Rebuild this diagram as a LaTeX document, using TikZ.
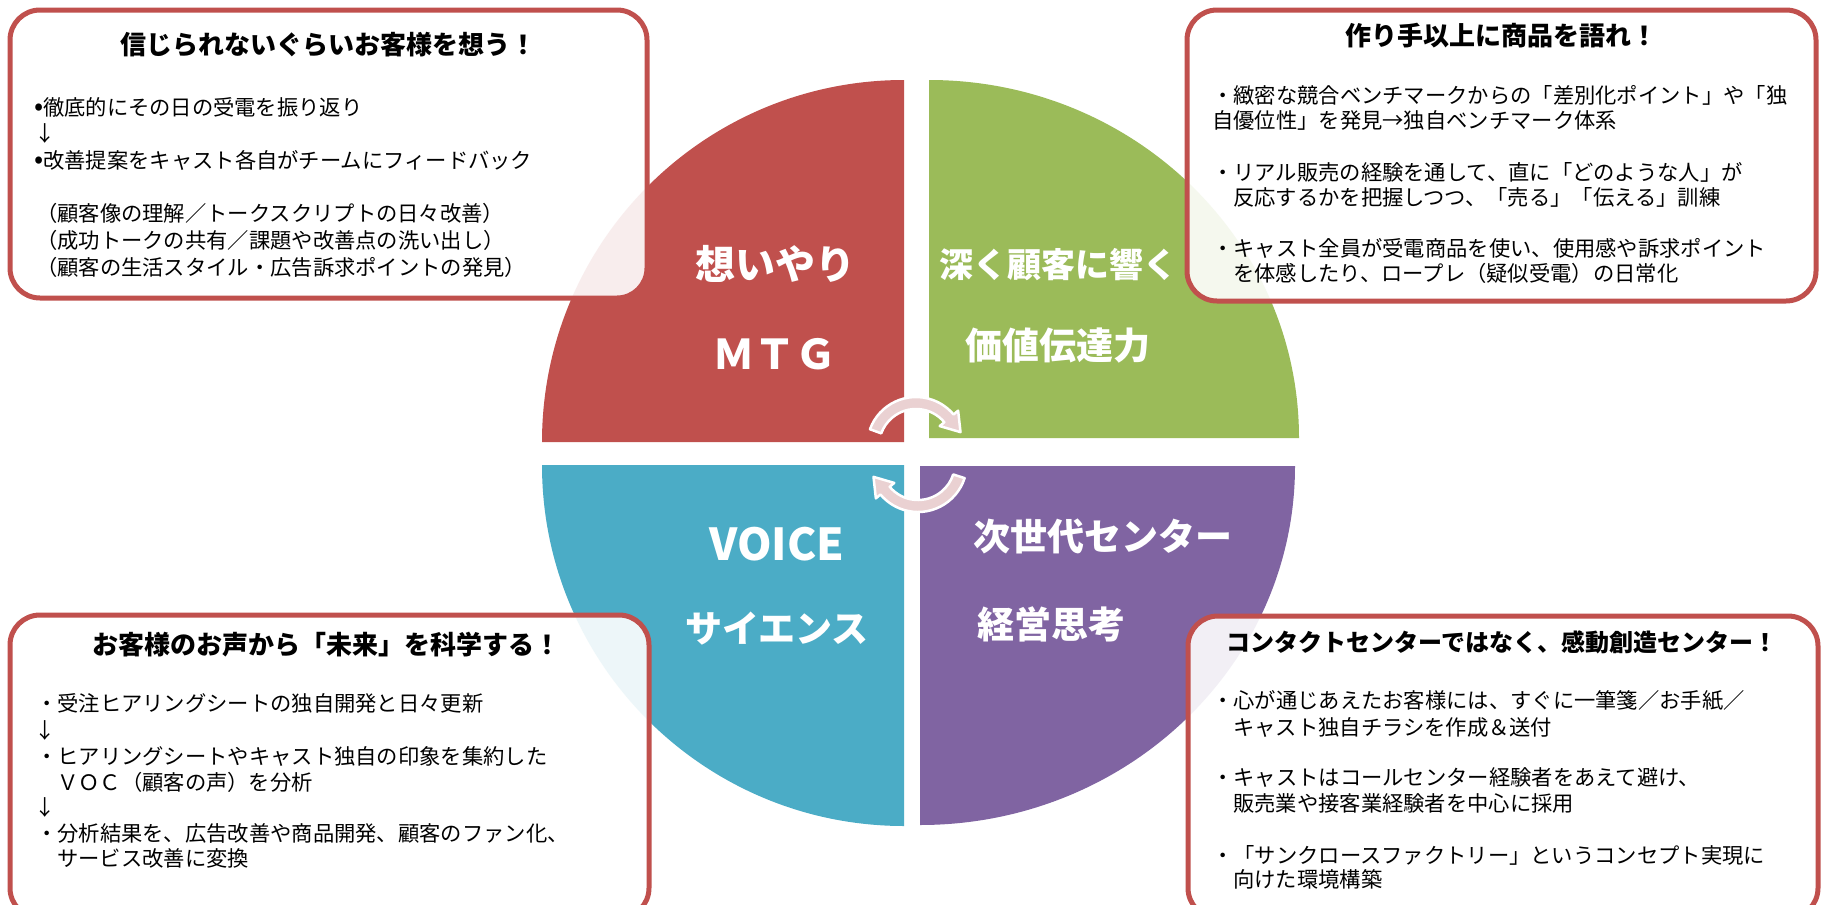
\documentclass[tikz,border=0pt]{standalone}
\usepackage{fontspec}
\setmainfont{Noto Sans CJK JP}
\usetikzlibrary{calc}
\definecolor{qred}{HTML}{C0504D}
\definecolor{qgreen}{HTML}{9BBB59}
\definecolor{qblue}{HTML}{4BACC6}
\definecolor{qpurple}{HTML}{8064A2}
\definecolor{arrowpink}{HTML}{EAD1D2}
\definecolor{boxred}{HTML}{C0504D}
\newcommand{\bigbul}{{\fontsize{27}{27}\selectfont•}}
\begin{document}
\begin{tikzpicture}[x=1pt,y=-1pt,
  infobox/.style={draw=boxred, line width=5pt, rounded corners=30pt, fill=white, fill opacity=0.9},
  boxtitle/.style={font=\fontsize{26}{30}\selectfont\bfseries, text=black, inner sep=0pt, text height=22.9pt, text depth=3.1pt},
  bodyline/.style={font=\fontsize{21.3}{26}\selectfont, text=black, anchor=west, inner sep=0pt, text height=18.7pt, text depth=2.6pt},
  qlabel/.style={text=white, inner sep=0pt},
  cyc/.style={fill=arrowpink, draw=white, line width=2.5pt, line join=round}]
\useasboundingbox (0,0) rectangle (1824,905);
\fill[white] (0,0) rectangle (1824,905);
% quadrants
\fill[qred] (904,442) -- (542,442) arc[start angle=180, end angle=270, x radius=362, y radius=362] -- cycle;
\fill[qgreen] (929,438) -- (929,80) arc[start angle=270, end angle=360, x radius=370, y radius=358] -- cycle;
\fill[qblue] (904,465) -- (904,826) arc[start angle=90, end angle=180, x radius=362, y radius=361] -- cycle;
\fill[qpurple] (920,466) -- (1295,466) arc[start angle=0, end angle=90, x radius=375, y radius=359] -- cycle;
% cycle arrows
\coordinate (ca) at (916,446);
\coordinate (cb) at (918,463);
\filldraw[cyc] ($(ca)+(200:49)$) arc[start angle=200, end angle=320, radius=49]
  -- ($(ca)+(320:55)$) -- ($(ca)+(320:43)+(50:18)$) -- ($(ca)+(320:31)$) -- ($(ca)+(320:37)$)
  arc[start angle=320, end angle=200, radius=37] -- cycle;
\filldraw[cyc] ($(cb)+(18:49)$) arc[start angle=18, end angle=140, radius=49]
  -- ($(cb)+(140:55)$) -- ($(cb)+(140:43)+(230:18)$) -- ($(cb)+(140:31)$) -- ($(cb)+(140:37)$)
  arc[start angle=140, end angle=18, radius=37] -- cycle;
% quadrant labels
\node[qlabel, font=\fontsize{40}{44}\selectfont\bfseries] (q1a) at (775,264) {想いやり};
\node[qlabel, font=\fontsize{41}{44}\selectfont\bfseries] (q1b) at (775,354) {ＭＴＧ};
\node[qlabel, font=\fontsize{34}{40}\selectfont\bfseries] (q2a) at (1058,265) {深く顧客に響く};
\node[qlabel, font=\fontsize{37}{40}\selectfont\bfseries] (q2b) at (1058,346) {価値伝達力};
\node[qlabel, font=\fontsize{44}{48}\selectfont\bfseries] (q3a) at (777,544) {VOICE};
\node[qlabel, font=\fontsize{37}{40}\selectfont\bfseries] (q3b) at (777,629) {サイエンス};
\node[qlabel, font=\fontsize{37}{40}\selectfont\bfseries] (q4a) at (1103,536) {次世代センター};
\node[qlabel, font=\fontsize{37}{40}\selectfont\bfseries] (q4b) at (1051,624) {経営思考};
% boxes
\draw[infobox] (10,10) rectangle (647,298);
\draw[infobox] (1187,10) rectangle (1816,301);
\draw[infobox] (10,615) rectangle (649,918);
\draw[infobox] (1188,616) rectangle (1818,918);
% top-left box
\node[boxtitle] (t1) at (328,45) {信じられないぐらいお客様を想う！};
\node[bodyline] (a1) at (34,107) {\bigbul 徹底的にその日の受電を振り返り};
\node[bodyline] (a2) at (34,133) {↓};
\node[bodyline] (a3) at (34,160) {\bigbul 改善提案をキャスト各自がチームにフィードバック};
\node[bodyline] (a4) at (36,213) {（顧客像の理解／トークスクリプトの日々改善）};
\node[bodyline] (a5) at (36,240) {（成功トークの共有／課題や改善点の洗い出し）};
\node[bodyline] (a6) at (36,267) {（顧客の生活スタイル・広告訴求ポイントの発見）};
% top-right box
\node[boxtitle] (t2) at (1501,36) {作り手以上に商品を語れ！};
\node[bodyline] (b1) at (1212,95) {・緻密な競合ベンチマークからの「差別化ポイント」や「独};
\node[bodyline] (b2) at (1212,120) {自優位性」を発見→独自ベンチマーク体系};
\node[bodyline] (b3) at (1212,172) {・リアル販売の経験を通して、直に「どのような人」が};
\node[bodyline] (b4) at (1233,197) {反応するかを把握しつつ、「売る」「伝える」訓練};
\node[bodyline] (b5) at (1212,248) {・キャスト全員が受電商品を使い、使用感や訴求ポイント};
\node[bodyline] (b6) at (1233,273) {を体感したり、ロープレ（疑似受電）の日常化};
% bottom-left box
\node[boxtitle] (t3) at (326,645) {お客様のお声から「未来」を科学する！};
\node[bodyline] (c1) at (36,703) {・受注ヒアリングシートの独自開発と日々更新};
\node[bodyline] (c2) at (34,730) {↓};
\node[bodyline] (c3) at (36,756) {・ヒアリングシートやキャスト独自の印象を集約した};
\node[bodyline] (c4) at (57,782) {ＶＯＣ（顧客の声）を分析};
\node[bodyline] (c5) at (34,807) {↓};
\node[bodyline] (c6) at (36,833) {・分析結果を、広告改善や商品開発、顧客のファン化、};
\node[bodyline] (c7) at (57,858) {サービス改善に変換};
% bottom-right box
\node[boxtitle, font=\fontsize{24}{28}\selectfont\bfseries] (t4) at (1502,642) {コンタクトセンターではなく、感動創造センター！};
\node[bodyline] (d1) at (1212,700) {・心が通じあえたお客様には、すぐに一筆箋／お手紙／};
\node[bodyline] (d2) at (1233,727) {キャスト独自チラシを作成＆送付};
\node[bodyline] (d3) at (1212,777) {・キャストはコールセンター経験者をあえて避け、};
\node[bodyline] (d4) at (1233,803) {販売業や接客業経験者を中心に採用};
\node[bodyline] (d5) at (1212,855) {・「サンクロースファクトリー」というコンセプト実現に};
\node[bodyline] (d6) at (1233,879) {向けた環境構築};
\end{tikzpicture}
\end{document}
